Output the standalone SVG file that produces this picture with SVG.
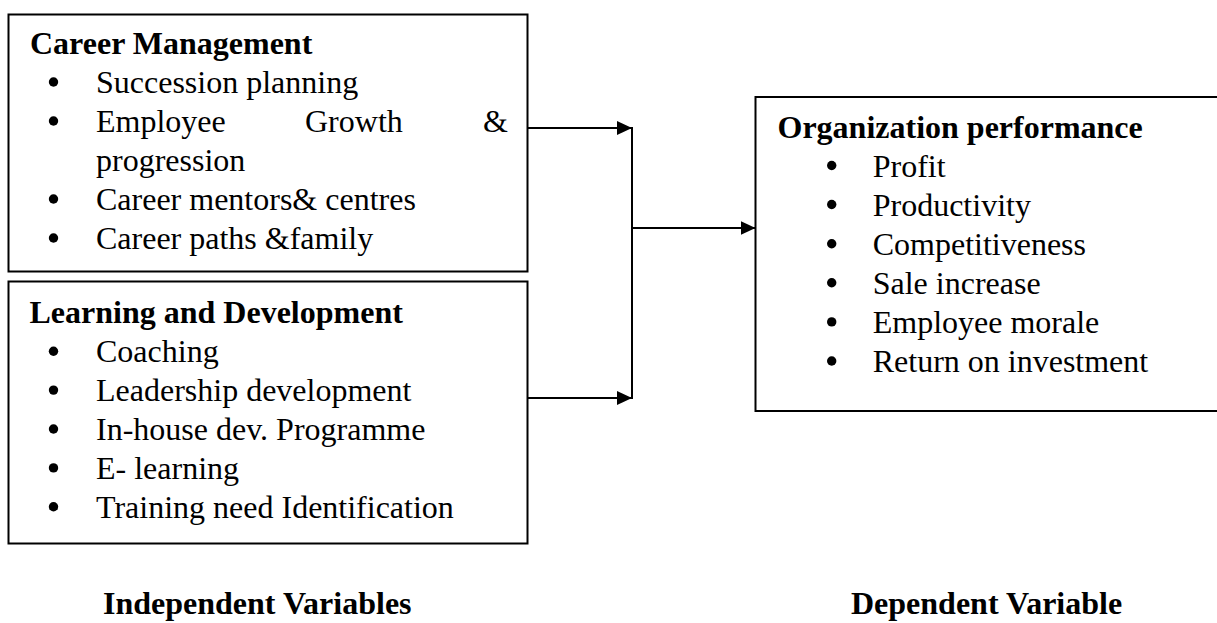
<svg xmlns="http://www.w3.org/2000/svg" width="1217" height="623" viewBox="0 0 1217 623">
<style>
.box{fill:#fff;stroke:#000;stroke-width:2}
.t{font-family:"Liberation Serif","Times New Roman",serif;font-size:32px;fill:#000}
.b{font-weight:bold}
.dot{fill:#000}
.c{fill:none;stroke:#000;stroke-width:2}
</style>
<defs>
<marker id="ah" markerUnits="userSpaceOnUse" markerWidth="16" markerHeight="14" refX="15" refY="7" orient="auto">
<path d="M0,0 L15,7 L0,14 Z" fill="#000"/>
</marker>
</defs>
<rect width="1217" height="623" fill="#fff"/>
<g id="career">
<rect class="box" x="8.5" y="14.5" width="519" height="257"/>
<text class="t b" x="30" y="54">Career Management</text>
<circle class="dot" cx="53.5" cy="82" r="4.7"/>
<text class="t" x="96" y="93">Succession planning</text>
<circle class="dot" cx="53.5" cy="121" r="4.7"/>
<text class="t" x="96" y="132">Employee</text>
<text class="t" x="305" y="132">Growth</text>
<text class="t" x="483" y="132">&amp;</text>
<text class="t" x="96" y="171">progression</text>
<circle class="dot" cx="53.5" cy="199" r="4.7"/>
<text class="t" x="96" y="210">Career mentors&amp; centres</text>
<circle class="dot" cx="53.5" cy="238" r="4.7"/>
<text class="t" x="96" y="249">Career paths &amp;family</text>
</g>
<g id="learning">
<rect class="box" x="8.5" y="281.5" width="519" height="262"/>
<text class="t b" x="29.5" y="323.3">Learning and Development</text>
<circle class="dot" cx="53.5" cy="351.2" r="4.7"/>
<text class="t" x="96" y="362.2">Coaching</text>
<circle class="dot" cx="53.5" cy="390.1" r="4.7"/>
<text class="t" x="96" y="401.1">Leadership development</text>
<circle class="dot" cx="53.5" cy="429" r="4.7"/>
<text class="t" x="96" y="440">In-house dev. Programme</text>
<circle class="dot" cx="53.5" cy="467.9" r="4.7"/>
<text class="t" x="96" y="478.9">E- learning</text>
<circle class="dot" cx="53.5" cy="506.8" r="4.7"/>
<text class="t" x="96" y="517.8">Training need Identification</text>
</g>
<g id="performance">
<rect class="box" x="755.5" y="97" width="480" height="314"/>
<text class="t b" x="777.5" y="137.5">Organization performance</text>
<circle class="dot" cx="831.7" cy="165.5" r="4.7"/>
<text class="t" x="872.7" y="176.5">Profit</text>
<circle class="dot" cx="831.7" cy="204.5" r="4.7"/>
<text class="t" x="872.7" y="215.5">Productivity</text>
<circle class="dot" cx="831.7" cy="243.8" r="4.7"/>
<text class="t" x="872.7" y="254.8">Competitiveness</text>
<circle class="dot" cx="831.7" cy="282.8" r="4.7"/>
<text class="t" x="872.7" y="293.8">Sale increase</text>
<circle class="dot" cx="831.7" cy="321.9" r="4.7"/>
<text class="t" x="872.7" y="332.9">Employee morale</text>
<circle class="dot" cx="831.7" cy="361" r="4.7"/>
<text class="t" x="872.7" y="372">Return on investment</text>
</g>
<g id="connectors">
<path class="c" d="M527.5,128 H632" marker-end="url(#ah)"/>
<path class="c" d="M527.5,398 H632" marker-end="url(#ah)"/>
<path class="c" d="M632,127 V399"/>
<path class="c" d="M632,228 H755.5" marker-end="url(#ah)"/>
</g>
<g id="labels">
<text class="t b" x="103" y="614">Independent Variables</text>
<text class="t b" x="851" y="614">Dependent Variable</text>
</g>
</svg>
